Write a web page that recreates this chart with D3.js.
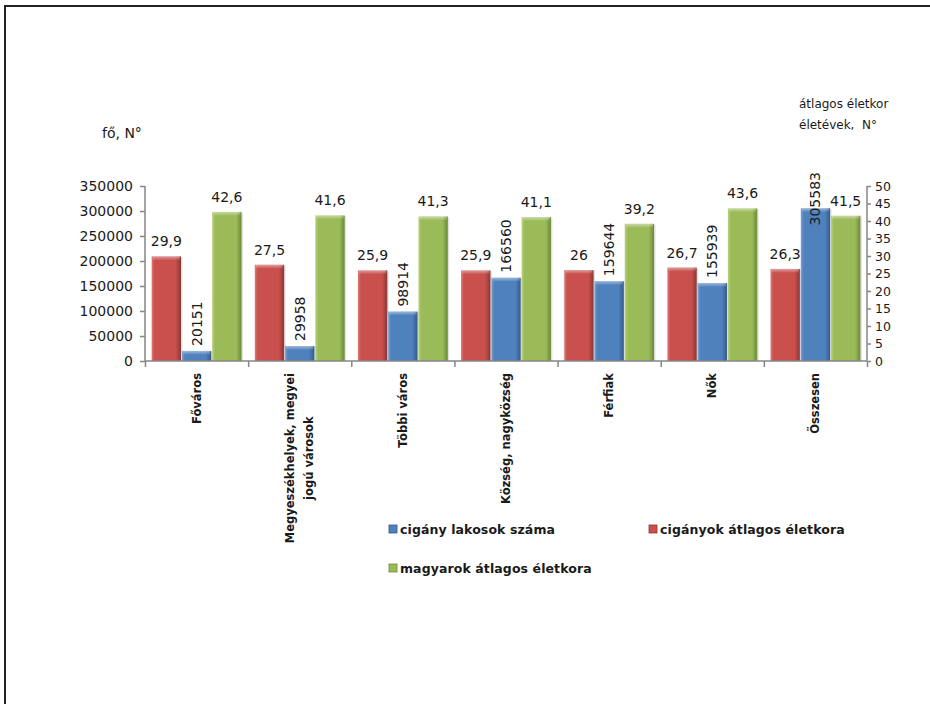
<!DOCTYPE html>
<html>
<head>
<meta charset="utf-8">
<script src="https://cdn.jsdelivr.net/npm/d3@7"></script>
<style>
  html, body { margin: 0; padding: 0; background: #fff; }
  svg { display: block; }
  text { font-family: "DejaVu Sans", sans-serif; fill: #1a1a1a; }
</style>
</head>
<body>
<svg id="chart" width="930" height="704"></svg>
<script>
// Categories (lines split for the rotated axis labels)
const categories = [
  ["Főváros"],
  ["Megyeszékhelyek, megyei", "jogú városok"],
  ["Többi város"],
  ["Község, nagyközség"],
  ["Férfiak"],
  ["Nők"],
  ["Összesen"]
];
// Series values
const cigAge = [29.9, 27.5, 25.9, 25.9, 26, 26.7, 26.3];          // cigányok átlagos életkora
const cigCount = [20151, 29958, 98914, 166560, 159644, 155939, 305583]; // cigány lakosok száma
const hunAge = [42.6, 41.6, 41.3, 41.1, 39.2, 43.6, 41.5];         // magyarok átlagos életkora
// Axis ticks
const leftTicks = [0, 50000, 100000, 150000, 200000, 250000, 300000, 350000];
const rightTicks = [0, 5, 10, 15, 20, 25, 30, 35, 40, 45, 50];
const seriesNames = ["cigány lakosok száma", "cigányok átlagos életkora", "magyarok átlagos életkora"];

const svg = d3.select("#chart");

// page frame
svg.append("path")
  .attr("d", "M5,704 V6 H930")
  .attr("fill", "none").attr("stroke", "#222").attr("stroke-width", 2);

const plot = { left: 145, right: 867, top: 186, bottom: 361 };

const x = d3.scaleBand().domain(d3.range(categories.length))
  .range([plot.left, plot.right]).paddingInner(0).paddingOuter(0);
const xs = d3.scaleBand().domain(["red", "blue", "green"])
  .range([0, x.bandwidth()]).paddingInner(0.03).paddingOuter(0.22);
const yL = d3.scaleLinear().domain([0, 350000]).range([plot.bottom, plot.top]);
const yR = d3.scaleLinear().domain([0, 50]).range([plot.bottom, plot.top]);

// bevelled bar fills
const defs = svg.append("defs");
const palette = {
  red:   { light: "#dc7a77", base: "#c9504d", dark: "#8a3735", top: "#e89896" },
  blue:  { light: "#7ba2d4", base: "#4f81bd", dark: "#345a8a", top: "#9dbce3" },
  green: { light: "#b9d27f", base: "#9bbb59", dark: "#6a8a35", top: "#c8de98" }
};
Object.entries(palette).forEach(([k, c]) => {
  const g = defs.append("linearGradient").attr("id", "h-" + k)
    .attr("x1", 0).attr("x2", 1).attr("y1", 0).attr("y2", 0);
  g.append("stop").attr("offset", "0%").attr("stop-color", c.light);
  g.append("stop").attr("offset", "10%").attr("stop-color", c.base);
  g.append("stop").attr("offset", "82%").attr("stop-color", c.base);
  g.append("stop").attr("offset", "100%").attr("stop-color", c.dark);
});
const shine = defs.append("linearGradient").attr("id", "topshine")
  .attr("x1", 0).attr("x2", 0).attr("y1", 0).attr("y2", 1);
shine.append("stop").attr("offset", "0%").attr("stop-color", "#fff").attr("stop-opacity", 0.45);
shine.append("stop").attr("offset", "100%").attr("stop-color", "#fff").attr("stop-opacity", 0);

function drawBar(g, key, x0, yTop) {
  const w = xs.bandwidth();
  const h = plot.bottom - yTop;
  // faint drop shadow
  g.append("rect").attr("x", x0 + 1.5).attr("y", yTop + 1).attr("width", w).attr("height", h - 1)
    .attr("fill", "#000").attr("opacity", 0.12);
  g.append("rect").attr("x", x0).attr("y", yTop).attr("width", w).attr("height", h)
    .attr("fill", "url(#h-" + key + ")");
  g.append("rect").attr("x", x0 + 1).attr("y", yTop).attr("width", w - 2).attr("height", Math.min(4, h))
    .attr("fill", "url(#topshine)");
}

const bars = svg.append("g");
const labels = svg.append("g");
const fmtAge = d => String(d).replace(".", ",");

categories.forEach((c, i) => {
  const bx = x(i);
  // red: cigányok átlagos életkora (right axis)
  const rTop = yR(cigAge[i]);
  drawBar(bars, "red", bx + xs("red"), rTop);
  labels.append("text").attr("x", bx + xs("red") + xs.bandwidth() / 2).attr("y", rTop - 10)
    .attr("text-anchor", "middle").attr("font-size", 14).text(fmtAge(cigAge[i]));
  // blue: cigány lakosok száma (left axis)
  const bTop = yL(cigCount[i]);
  drawBar(bars, "blue", bx + xs("blue"), bTop);
  const cx = bx + xs("blue") + xs.bandwidth() / 2;
  const t = labels.append("text").attr("font-size", 14).attr("text-anchor", "start")
    .text(cigCount[i]);
  const len = t.node().getComputedTextLength();
  const bottom = Math.max(bTop - 5, 172 + len);
  t.attr("transform", `translate(${cx + 5},${bottom}) rotate(-90)`);
  // green: magyarok átlagos életkora (right axis)
  const gTop = yR(hunAge[i]);
  drawBar(bars, "green", bx + xs("green"), gTop);
  labels.append("text").attr("x", bx + xs("green") + xs.bandwidth() / 2).attr("y", gTop - 10)
    .attr("text-anchor", "middle").attr("font-size", 14).text(fmtAge(hunAge[i]));
});

// axes
const axisColor = "#868686";
const gl = svg.append("g").attr("transform", `translate(${plot.left},0)`)
  .call(d3.axisLeft(yL).tickValues(leftTicks).tickSize(5).tickPadding(7).tickFormat(d3.format("d")));
const gr = svg.append("g").attr("transform", `translate(${plot.right},0)`)
  .call(d3.axisRight(yR).tickValues(rightTicks).tickSize(4).tickPadding(4).tickFormat(d3.format("d")));
const gb = svg.append("g").attr("transform", `translate(0,${plot.bottom})`)
  .call(d3.axisBottom(d3.scaleLinear().domain([0, categories.length]).range([plot.left, plot.right]))
    .tickValues(d3.range(categories.length + 1)).tickSize(6).tickFormat(""));
[gl, gr, gb].forEach(g => {
  g.select(".domain").attr("stroke", axisColor).attr("stroke-width", 1.5);
  g.selectAll(".tick line").attr("stroke", axisColor).attr("stroke-width", 1.5);
  g.selectAll("text").attr("font-family", "DejaVu Sans").attr("fill", "#1a1a1a");
});
gl.select(".domain").attr("d", `M0,${plot.top}V${plot.bottom}`);
gr.select(".domain").attr("d", `M0,${plot.top}V${plot.bottom}`);
gb.select(".domain").attr("d", `M${plot.left},0H${plot.right}`);
gl.selectAll("text").attr("font-size", 14);
gr.selectAll("text").attr("font-size", 12.5);

// rotated category labels
categories.forEach((lines, i) => {
  const cx = x(i) + x.bandwidth() / 2;
  const lh = 19;
  const t = svg.append("text")
    .attr("transform", `translate(${cx - (lines.length - 1) * lh / 2 + 4},${plot.bottom + 12}) rotate(-90)`)
    .attr("font-family", "Liberation Sans, sans-serif").attr("font-weight", "bold")
    .attr("font-size", 11.5).attr("text-anchor", "end");
  // block is end-aligned, lines centred within it
  const widths = lines.map(l => {
    const tmp = svg.append("text").attr("font-family", "Liberation Sans, sans-serif")
      .attr("font-weight", "bold").attr("font-size", 11.5).text(l);
    const w = tmp.node().getComputedTextLength();
    tmp.remove();
    return w;
  });
  const maxW = d3.max(widths);
  lines.forEach((l, j) => {
    t.append("tspan").attr("x", -(maxW - widths[j]) / 2).attr("y", j * lh).text(l);
  });
});

// axis titles
svg.append("text").attr("x", 102).attr("y", 138).attr("font-size", 14).text("fő, N°");
svg.append("text").attr("x", 799).attr("y", 108).attr("font-size", 12).text("átlagos életkor");
svg.append("text").attr("x", 799).attr("y", 129).attr("font-size", 12).attr("xml:space", "preserve")
  .text("életévek,  N°");

// legend
const legendItems = [
  { name: seriesNames[0], key: "blue", x: 393, y: 529 },
  { name: seriesNames[1], key: "red", x: 653, y: 529 },
  { name: seriesNames[2], key: "green", x: 393, y: 568 }
];
const lg = svg.append("g");
legendItems.forEach(d => {
  lg.append("rect").attr("x", d.x - 4).attr("y", d.y - 4).attr("width", 8).attr("height", 8)
    .attr("fill", palette[d.key].base).attr("stroke", palette[d.key].dark).attr("stroke-width", 0.8);
  lg.append("text").attr("x", d.x + 7).attr("y", d.y + 4.5)
    .attr("font-family", "Liberation Sans, sans-serif").attr("font-weight", "bold")
    .attr("font-size", 12.5).attr("letter-spacing", 0.1).text(d.name);
});
</script>
</body>
</html>
